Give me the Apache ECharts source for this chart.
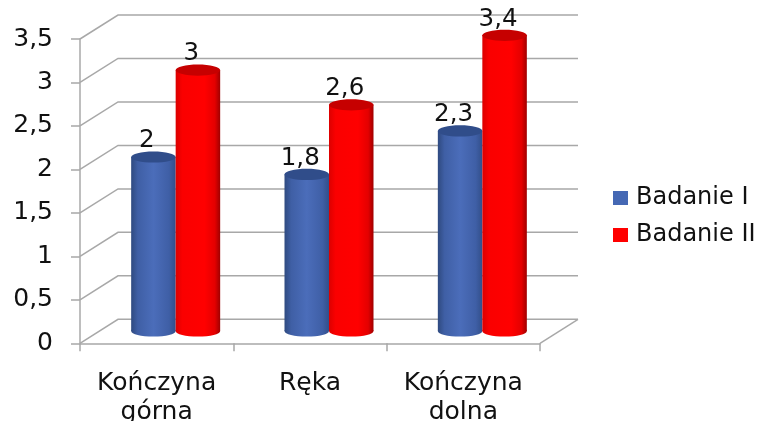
<!DOCTYPE html>
<html><head><meta charset="utf-8">
<style>html,body{margin:0;padding:0;background:#fff}#c{width:761px;height:421px}</style>
<script src="https://cdn.jsdelivr.net/npm/echarts@6/dist/echarts.min.js"></script>
</head><body><div id="c"></div>
<script>
const categories = ['Kończyna\ngórna', 'Ręka', 'Kończyna\ndolna'];
const seriesNames = ['Badanie I', 'Badanie II'];
const badanieI = [2, 1.8, 2.3];
const badanieII = [3, 2.6, 3.4];
const valueTicks = [0, 0.5, 1, 1.5, 2, 2.5, 3, 3.5];

const FONT = '"DejaVu Sans"';
const depthX = 38, depthY = 24, barW = 44.5, capRy = 5.6, lift = 12.4;
const comma = v => String(v).replace('.', ',');
const LG = (stops) => new echarts.graphic.LinearGradient(0, 0, 1, 0, stops.map(c => ({offset: c[0], color: c[1]})));

const looks = [
  {body: [[0, '#2f4a80'], [0.15, '#3f5fa5'], [0.5, '#4b6dba'], [0.85, '#3f5fa6'], [1, '#324f8a']], cap: '#304d8a'},
  {body: [[0, '#dc0000'], [0.15, '#fa0000'], [0.65, '#ff0000'], [0.88, '#e40000'], [1, '#a00000']], cap: '#c60000'}
];

function wallRender(params, api) {
  const cs = params.coordSys;
  const v = api.value(0);
  const y = api.coord([0, v])[1];
  const x0 = cs.x, x1 = cs.x + cs.width;
  const style = {stroke: '#a8a8a8', lineWidth: 1.5, fill: 'none'};
  const children = [{
    type: 'polyline',
    shape: {points: [[x0, y], [x0 + depthX, y - depthY], [x1 + depthX, y - depthY]]},
    style: style, silent: true
  }];
  if (v === 0) children.push({
    type: 'line',
    shape: {x1: x1, y1: y, x2: x1 + depthX, y2: y - depthY},
    style: style, silent: true
  });
  return {type: 'group', children: children};
}

function cylinder(idx) {
  const look = looks[idx];
  return function (params, api) {
    const cat = api.value(0), val = api.value(1);
    const top = api.coord([cat, val]);
    const base = api.coord([cat, 0]);
    const cx = top[0] + depthX / 2 + (idx === 0 ? -barW / 2 : barW / 2);
    const yT = top[1] - lift;
    const yB = base[1] - lift;
    const fill = LG(look.body);
    return {
      type: 'group',
      children: [
        {type: 'ellipse', shape: {cx: cx, cy: yB, rx: barW / 2, ry: capRy}, style: {fill: fill}, silent: true},
        {type: 'rect', shape: {x: cx - barW / 2, y: yT, width: barW, height: yB - yT}, style: {fill: fill}, silent: true},
        {type: 'ellipse', shape: {cx: cx, cy: yT, rx: barW / 2, ry: capRy}, style: {fill: look.cap}, silent: true},
        {type: 'text', x: cx - 6.5, y: yT - 16,
          style: {text: comma(val), font: '24.5px ' + FONT, fill: '#111', align: 'center', verticalAlign: 'middle'}, silent: true}
      ]
    };
  };
}

const chart = echarts.init(document.getElementById('c'), null, {renderer: 'canvas'});
chart.setOption({
  animation: false,
  backgroundColor: '#fff',
  grid: {left: 80, right: 221, top: 39, bottom: 77.7, containLabel: false, outerBoundsMode: 'none'},
  legend: {
    left: 613, top: 186, orient: 'vertical', icon: 'rect', padding: 0,
    itemWidth: 15, itemHeight: 14, itemGap: 13,
    data: seriesNames,
    textStyle: {fontFamily: FONT, fontSize: 24, color: '#111', padding: [0, 0, 0, 3]}
  },
  xAxis: {
    type: 'category', data: categories, boundaryGap: true,
    axisLine: {lineStyle: {color: '#a8a8a8', width: 1.5}},
    axisTick: {show: true, length: 8, alignWithLabel: false, interval: 0, lineStyle: {color: '#a8a8a8', width: 1.5}},
    axisLabel: {interval: 0, margin: 26, fontFamily: FONT, fontSize: 25, color: '#111', lineHeight: 29},
    splitLine: {show: false}
  },
  yAxis: {
    type: 'value', min: 0, max: 3.5, interval: 0.5,
    axisLine: {show: true, lineStyle: {color: '#a8a8a8', width: 1.5}},
    axisTick: {show: true, length: 9, lineStyle: {color: '#a8a8a8', width: 1.5}},
    axisLabel: {margin: 27, fontFamily: FONT, fontSize: 25, color: '#111', formatter: comma},
    splitLine: {show: false}
  },
  series: [
    {type: 'custom', name: 'walls', z: 1, encode: {y: 0}, data: valueTicks.map(v => [v]), renderItem: wallRender, silent: true, clip: false},
    {type: 'custom', name: seriesNames[0], z: 3, clip: false, itemStyle: {color: '#4568b4'},
      encode: {x: 0, y: 1}, data: badanieI.map((v, i) => [i, v]), renderItem: cylinder(0)},
    {type: 'custom', name: seriesNames[1], z: 4, clip: false, itemStyle: {color: '#ff0000'},
      encode: {x: 0, y: 1}, data: badanieII.map((v, i) => [i, v]), renderItem: cylinder(1)}
  ]
});
</script></body></html>
